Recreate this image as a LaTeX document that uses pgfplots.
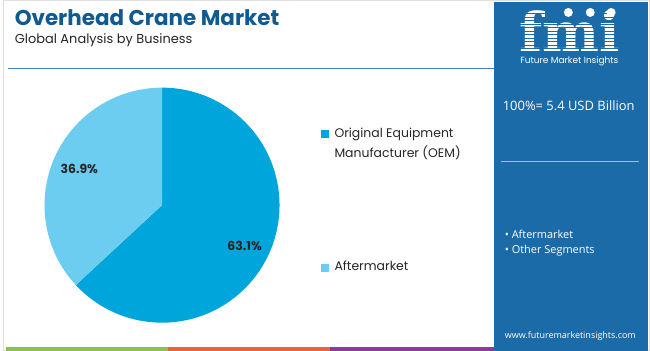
\documentclass[border=0pt]{standalone}
\usepackage{pgfplots}
\pgfplotsset{compat=1.18}
\usepackage{pgfplotstable}
\usepackage{fontspec}
\setmainfont{Poppins}
\newfontfamily\osans{Open Sans}
\newfontfamily\dvserif{DejaVu Serif}
\definecolor{titleblue}{HTML}{0E5A93}
\definecolor{oem}{HTML}{00A5DB}
\definecolor{after}{HTML}{6CCDF0}
\definecolor{panel}{HTML}{1B6BA9}
\definecolor{hline}{HTML}{3C84C2}
\definecolor{pline}{HTML}{8CC4EA}
\definecolor{sgreen}{HTML}{8DC04F}
\definecolor{sorange}{HTML}{E2683A}
\definecolor{spurple}{HTML}{8A3D94}
\pgfplotstableread{
label value
OEM 63.1
Aftermarket 36.9
}\piedata
\begin{document}
\pgfplotstablegetelem{0}{value}\of\piedata
\let\va\pgfplotsretval
\pgfmathsetmacro\angA{90-3.6*\va}
\begin{tikzpicture}
\begin{axis}[at={(0,0)}, anchor=south west, scale only axis,
  width=650pt, height=352pt, xmin=0, xmax=650, ymin=0, ymax=352,
  y dir=reverse, hide axis, clip=false]
% background
\fill[white] (axis cs:0,0) rectangle (axis cs:650,352);
\draw[black!12, line width=1pt] (axis cs:0.5,0.5) rectangle (axis cs:649.5,351.5);
% header
\node[anchor=base west, inner sep=0pt, font=\fontsize{21.5}{24}\selectfont\bfseries, text=titleblue] at (axis cs:12,25.5) {Overhead Crane Market};
\node[anchor=base west, inner sep=0pt, font=\fontsize{13}{15}\selectfont, text=black!85] at (axis cs:12,43.5) {Global Analysis by Business};
\draw[hline, line width=1.2pt] (axis cs:5,69) -- (axis cs:493,69);
% pie
\fill[oem] (axis cs:160,206) -- ++(90:118pt) arc[start angle=90, end angle=\angA, radius=118pt] -- cycle;
\fill[after] (axis cs:160,206) -- ++(\angA:118pt) arc[start angle=\angA, end angle=-270, radius=118pt] -- cycle;
\node[font=\fontsize{12.5}{15}\selectfont\bfseries, text=black!85] at (axis cs:77,170) {36.9\%};
\node[font=\fontsize{12.5}{15}\selectfont\bfseries, text=black!85] at (axis cs:243,247) {63.1\%};
% legend
\fill[oem] (axis cs:320,131) rectangle (axis cs:328,139);
\node[anchor=base west, inner sep=0pt, font=\fontsize{12.5}{15}\selectfont, text=black!85] at (axis cs:333,138.5) {Original Equipment};
\node[anchor=base west, inner sep=0pt, font=\fontsize{12.5}{15}\selectfont, text=black!85] at (axis cs:333,158) {Manufacturer (OEM)};
\fill[after] (axis cs:320,265) rectangle (axis cs:328,273);
\node[anchor=base west, inner sep=0pt, font=\fontsize{12.5}{15}\selectfont, text=black!85] at (axis cs:333,272) {Aftermarket};
% bottom stripes
\fill[sgreen] (axis cs:3,348.5) rectangle (axis cs:166,352);
\fill[sorange] (axis cs:166,348.5) rectangle (axis cs:329,352);
\fill[spurple] (axis cs:329,348.5) rectangle (axis cs:494,352);
% panel
\fill[panel] (axis cs:493,2) rectangle (axis cs:648,352);
\node[anchor=base, inner sep=0pt, text depth=0pt, font=\fontsize{54}{54}\selectfont\dvserif\bfseries, text=white] at (axis cs:569,51.5) {fmi};
\pgfplotsinvokeforeach{14,17.5,21,24.5,28,31.5,35,38.5,42,45.5,49}{\draw[panel, line width=0.9pt] (axis cs:510,#1) -- (axis cs:630,#1);}
\fill[white] (axis cs:568,12.5) circle[radius=4.5pt];
\fill[white] (axis cs:590,12.5) circle[radius=4.5pt];
\fill[white] (axis cs:611,12.5) circle[radius=4.5pt];
\node[anchor=base, inner sep=0pt, font=\fontsize{9}{11}\selectfont, text=white] at (axis cs:569,64) {Future Market Insights};
\node[anchor=base west, inner sep=0pt, font=\fontsize{13}{15}\selectfont\osans, text=white] at (axis cs:502,111) {100\%= 5.4 USD Billion};
\draw[pline, line width=1.2pt] (axis cs:500,162) -- (axis cs:639,162);
\node[anchor=base west, inner sep=0pt, font=\fontsize{11}{13}\selectfont\osans, text=white] at (axis cs:504,239) {\textbullet\ Aftermarket};
\node[anchor=base west, inner sep=0pt, font=\fontsize{11}{13}\selectfont\osans, text=white] at (axis cs:504,255) {\textbullet\ Other Segments};
\node[anchor=base, inner sep=0pt, font=\fontsize{9}{11}\selectfont\osans, text=white] at (axis cs:570,340) {www.futuremarketinsights.com};
\end{axis}
\end{tikzpicture}
\end{document}
